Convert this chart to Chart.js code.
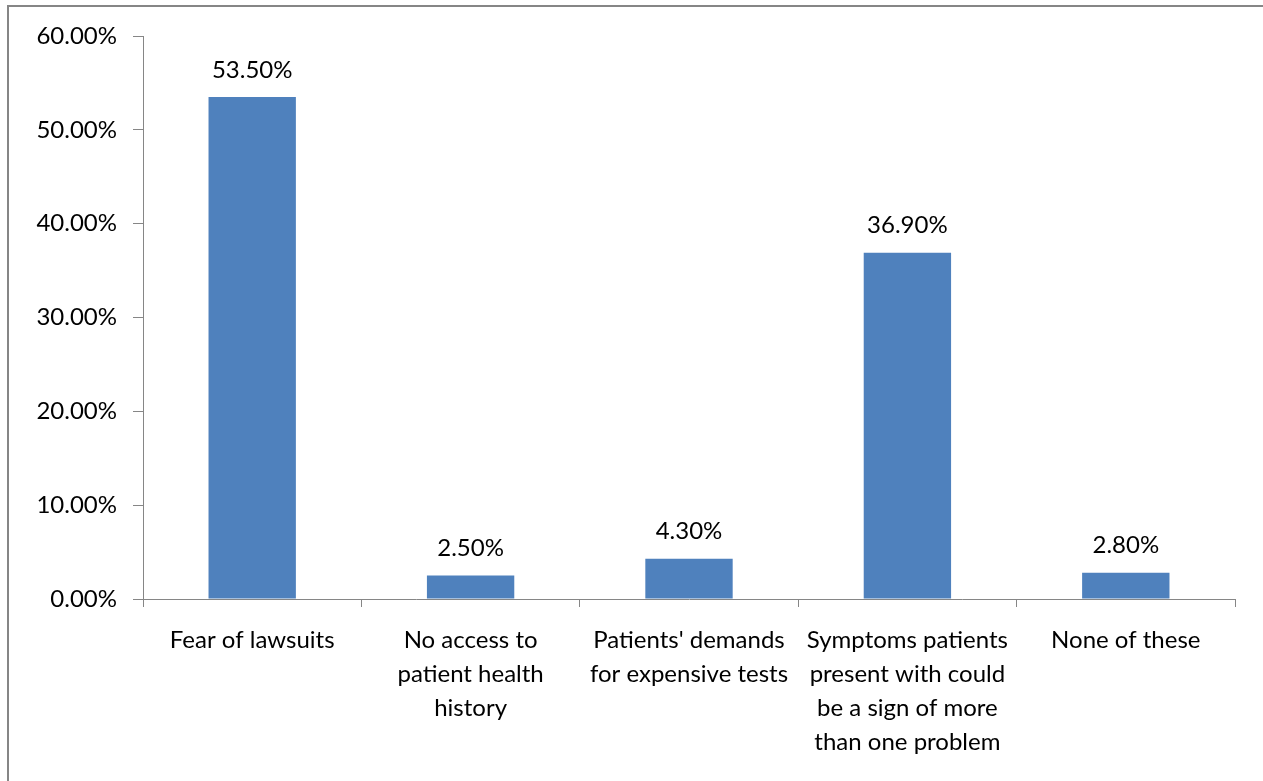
<!DOCTYPE html>
<html>
<head>
<meta charset="utf-8">
<script src="https://cdn.jsdelivr.net/npm/chart.js@4"></script>
<style>
  html, body { margin: 0; padding: 0; background: #fff; overflow: hidden; }
  #frame {
    position: absolute; left: 7px; top: 5px; width: 1400px; height: 900px;
    border-left: 2px solid #868686; border-top: 2px solid #868686;
  }
  #barChart { position: absolute; left: 0; top: 0; }
</style>
</head>
<body>
<div id="frame"></div>
<canvas id="barChart" width="1263" height="781"></canvas>
<script>
// data
const categories = [
  "Fear of lawsuits",
  ["No access to", "patient health", "history"],
  ["Patients' demands", "for expensive tests"],
  ["Symptoms patients", "present with could", "be a sign of more", "than one problem"],
  "None of these"
];
const values = [53.5, 2.5, 4.3, 36.9, 2.8];
const yMin = 0;
const yMax = 60;
const yStep = 10;

const FONT = { family: "Lato, 'Open Sans', sans-serif", size: 24, lineHeight: 34 / 24 };
const AXIS_GRAY = "#868686";

// value labels above the bars
const barLabels = {
  id: "barLabels",
  afterDatasetsDraw(chart) {
    const ctx = chart.ctx;
    const meta = chart.getDatasetMeta(0);
    ctx.save();
    ctx.font = FONT.size + "px " + FONT.family;
    ctx.fillStyle = "#000";
    ctx.textAlign = "center";
    ctx.textBaseline = "middle";
    meta.data.forEach((bar, i) => {
      ctx.fillText(values[i].toFixed(2) + "%", bar.x, bar.y - 27);
    });
    ctx.restore();
  }
};

const bar = document.getElementById("barChart");
new Chart(bar, {
  type: "bar",
  data: {
    labels: categories,
    datasets: [
      {
        data: values,
        backgroundColor: "#4F81BD",
        borderWidth: 0,
        barPercentage: 1,
        categoryPercentage: 0.4
      },
    ],
  },
  options: {
    responsive: false,
    animation: false,
    layout: { padding: { left: 0, top: 36, right: 28, bottom: 0 } },
    plugins: {
      legend: { display: false },
      tooltip: { enabled: false }
    },
    scales: {
      x: {
        grid: {
          drawOnChartArea: false,
          drawTicks: true,
          tickLength: 8,
          color: AXIS_GRAY,
          offset: true
        },
        border: { color: AXIS_GRAY, width: 1 },
        ticks: {
          color: "#000",
          font: FONT,
          padding: 16,
          maxRotation: 0,
          autoSkip: false
        },
        afterFit(scale) { scale.height = 182; }
      },
      y: {
        min: yMin,
        max: yMax,
        grid: {
          drawOnChartArea: false,
          drawTicks: true,
          tickLength: 10,
          color: AXIS_GRAY
        },
        border: { color: AXIS_GRAY, width: 1 },
        ticks: {
          stepSize: yStep,
          color: "#000",
          font: FONT,
          padding: 16,
          callback: (v) => v.toFixed(2) + "%"
        },
        afterFit(scale) { scale.width = 143; }
      }
    }
  },
  plugins: [barLabels]
});
</script>
</body>
</html>
